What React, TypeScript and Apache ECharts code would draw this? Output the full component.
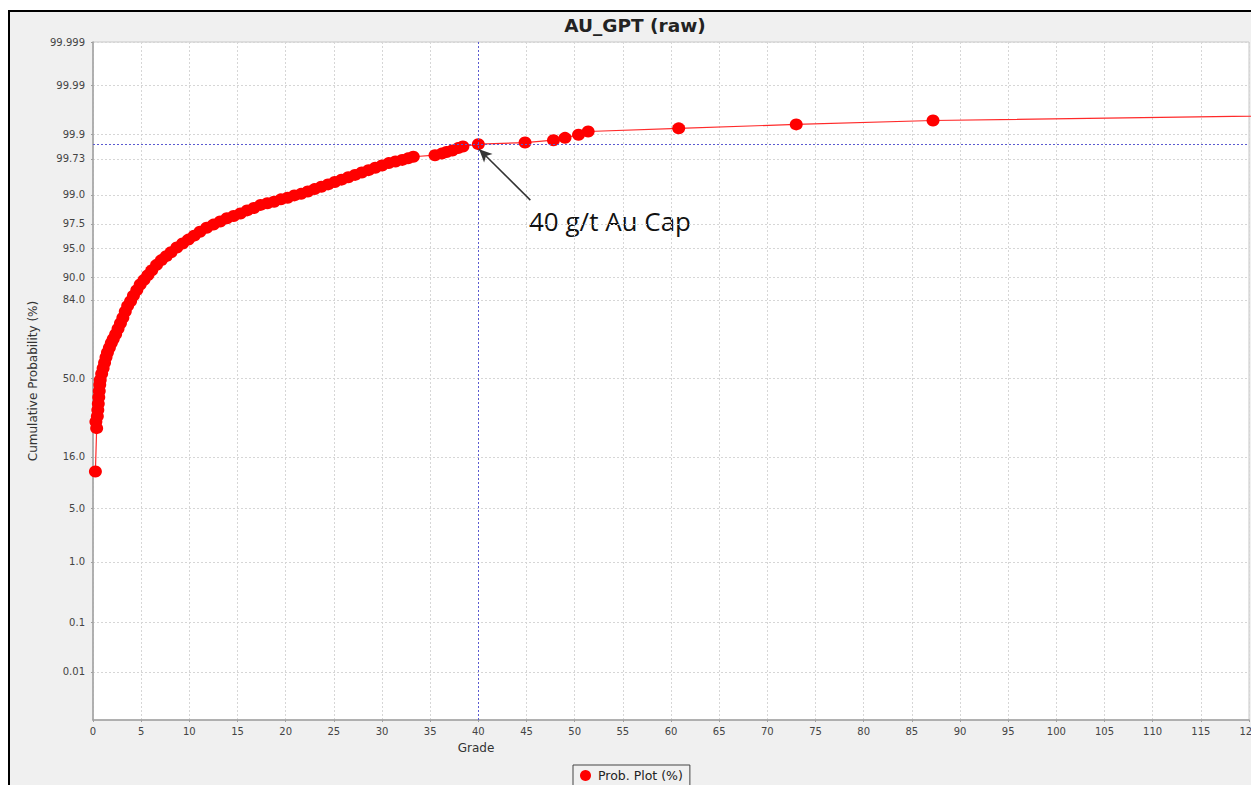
import React, { useEffect, useRef } from "react";
import * as echarts from "echarts";

// Grade (g/t) of each plotted sample
const grade = [
  0.25, 0.38, 0.3, 0.45, 0.5, 0.55, 0.6, 0.65, 0.7, 0.75,
  0.9, 1.05, 1.2, 1.35, 1.5, 1.7, 1.9, 2.1,
  2.35, 2.6, 2.85, 3.1, 3.35, 3.6, 3.9, 4.2, 4.55, 4.9,
  5.3, 5.7, 6.1, 6.6, 7.1, 7.6, 8.1, 8.7, 9.3, 9.9,
  10.5, 11.1, 11.8, 12.5, 13.2, 13.9, 14.6, 15.3, 16.0, 16.7,
  17.4, 18.1, 18.8, 19.5, 20.2, 20.9, 21.6, 22.3, 23.0, 23.7,
  24.4, 25.1, 25.8, 26.5, 27.2, 27.9, 28.6, 29.3, 30.0, 30.7,
  31.4, 32.1, 32.7, 33.25, 35.5, 36.2, 36.7, 37.3, 37.9, 38.4,
  40.0, 44.85, 47.8, 49.0, 50.4, 51.4, 60.8, 73.0, 87.2, 140,
];

// Normal score (probit of the cumulative probability) of each sample
const normalScore = [
  -1.18, -0.63, -0.55, -0.48, -0.4, -0.32, -0.24, -0.16, -0.08, -0.02,
  0.06, 0.13, 0.2, 0.27, 0.33, 0.39, 0.45, 0.5,
  0.56, 0.63, 0.7, 0.77, 0.85, 0.92, 0.98, 1.05, 1.12, 1.19,
  1.25, 1.31, 1.37, 1.44, 1.5, 1.55, 1.6, 1.66, 1.71, 1.76,
  1.81, 1.86, 1.91, 1.95, 1.99, 2.03, 2.06, 2.09, 2.13, 2.16,
  2.2, 2.22, 2.24, 2.27, 2.29, 2.32, 2.34, 2.37, 2.4, 2.43,
  2.46, 2.49, 2.52, 2.55, 2.58, 2.61, 2.64, 2.67, 2.7, 2.73,
  2.75, 2.77, 2.79, 2.81, 2.83, 2.85, 2.87, 2.89, 2.92, 2.94,
  2.97, 2.99, 3.02, 3.05, 3.09, 3.13, 3.17, 3.22, 3.27, 3.36,
];

// Probability-axis tick labels (%)
const yTickLabels = [
  "99.999", "99.99", "99.9", "99.73", "99.0", "97.5", "95.0", "90.0",
  "84.0", "50.0", "16.0", "5.0", "1.0", "0.1", "0.01",
];
const yBottomScore = -4.33;

const capGrade = 40;
const capScore = 2.97;
const arrowFrom = [45.4, 2.26];
const arrowTo = [40.08, 2.906];
const capLabel = "40 g/t Au Cap";

// Acklam's inverse normal CDF
function normInv(p: number): number {
  const a = [-3.969683028665376e1, 2.209460984245205e2, -2.759285104469687e2, 1.38357751867269e2, -3.066479806614716e1, 2.506628277459239];
  const b = [-5.447609879822406e1, 1.615858368580409e2, -1.556989798598866e2, 6.680131188771972e1, -1.328068155288572e1];
  const c = [-7.784894002430293e-3, -3.223964580411365e-1, -2.400758277161838, -2.549732539343734, 4.374664141464968, 2.938163982698783];
  const d = [7.784695709041462e-3, 3.224671290700398e-1, 2.445134137142996, 3.754408661907416];
  const pl = 0.02425;
  let q: number, r: number;
  if (p < pl) {
    q = Math.sqrt(-2 * Math.log(p));
    return (((((c[0] * q + c[1]) * q + c[2]) * q + c[3]) * q + c[4]) * q + c[5]) /
      ((((d[0] * q + d[1]) * q + d[2]) * q + d[3]) * q + 1);
  }
  if (p <= 1 - pl) {
    q = p - 0.5;
    r = q * q;
    return (((((a[0] * r + a[1]) * r + a[2]) * r + a[3]) * r + a[4]) * r + a[5]) * q /
      (((((b[0] * r + b[1]) * r + b[2]) * r + b[3]) * r + b[4]) * r + 1);
  }
  q = Math.sqrt(-2 * Math.log(1 - p));
  return -(((((c[0] * q + c[1]) * q + c[2]) * q + c[3]) * q + c[4]) * q + c[5]) /
    ((((d[0] * q + d[1]) * q + d[2]) * q + d[3]) * q + 1);
}

export default function App() {
  const ref = useRef<HTMLDivElement>(null);

  useEffect(() => {
    document.body.style.margin = "0";
    if (!ref.current) return;
    const chart = echarts.init(ref.current, null, { renderer: "svg" });
    const yTicks = yTickLabels.map((s) => normInv(parseFloat(s) / 100));
    const data = grade.map((g, i) => [g, normalScore[i]]);
    const font = "DejaVu Sans";

    chart.setOption({
      animation: false,
      backgroundColor: "transparent",
      title: {
        text: "AU_GPT (raw)",
        left: 635,
        top: 16,
        textAlign: "center",
        padding: 0,
        textStyle: { fontFamily: font, fontSize: 18.5, fontWeight: "bold", color: "#222" },
      },
      legend: {
        data: [{ name: "Prob. Plot (%)", icon: "circle" }],
        left: 573,
        top: 765,
        padding: [4, 7],
        itemWidth: 15,
        itemHeight: 11,
        itemGap: 5,
        borderColor: "#444",
        borderWidth: 1,
        backgroundColor: "#f0f0f0",
        textStyle: { fontFamily: font, fontSize: 12.5, color: "#222" },
      },
      grid: {
        left: 93,
        right: 2,
        top: 42,
        bottom: 65,
        show: true,
        backgroundColor: "#ffffff",
        borderColor: "#c8c8c8",
        borderWidth: 1,
        containLabel: false,
        outerBoundsMode: "none",
      },
      xAxis: {
        type: "value",
        min: 0,
        max: 120,
        interval: 5,
        name: "Grade",
        nameLocation: "middle",
        nameGap: 22,
        nameTextStyle: { fontFamily: font, fontSize: 12, color: "#333", padding: [0, 390, 0, 0] },
        axisLine: { show: true, onZero: false, lineStyle: { color: "#a0a0a0", width: 1.5 } },
        axisTick: { show: true, length: 2, lineStyle: { color: "#a0a0a0" } },
        axisLabel: { fontFamily: font, fontSize: 10, color: "#444", margin: 6, showMaxLabel: true, showMinLabel: true, hideOverlap: false },
        splitLine: { show: true, lineStyle: { color: "#d6d6d6", type: [2, 2], width: 1 } },
      },
      yAxis: {
        type: "value",
        min: yBottomScore,
        max: yTicks[0],
        name: "Cumulative Probability (%)",
        nameLocation: "middle",
        nameGap: 52,
        nameTextStyle: { fontFamily: font, fontSize: 12, color: "#333" },
        axisLine: { show: true, onZero: false, lineStyle: { color: "#a0a0a0", width: 1.5 } },
        axisTick: { show: true, length: 2, customValues: yTicks, lineStyle: { color: "#a0a0a0" } },
        axisLabel: {
          customValues: yTicks,
          fontFamily: font,
          fontSize: 10,
          color: "#444",
          margin: 8,
          formatter: (v: number) => {
            const i = yTicks.findIndex((t) => Math.abs(t - v) < 1e-6);
            return i >= 0 ? yTickLabels[i] : "";
          },
        },
        splitLine: { show: true, lineStyle: { color: "#d6d6d6", type: [2, 2], width: 1 } },
      },
      graphic: [
        {
          type: "text",
          x: 529,
          y: 221,
          silent: true,
          style: {
            text: capLabel,
            fontFamily: "Open Sans",
            fontSize: 26,
            fill: "#111",
            verticalAlign: "middle",
            align: "left",
          },
        },
      ],
      series: [
        {
          name: "Prob. Plot (%)",
          type: "line",
          data,
          symbol: "circle",
          symbolSize: [13, 12],
          showSymbol: true,
          clip: true,
          itemStyle: { color: "#ff0000" },
          lineStyle: { color: "#ff2a2a", width: 1.2 },
          emphasis: { disabled: true },
          markLine: {
            silent: true,
            symbol: ["none", "none"],
            label: { show: false },
            emphasis: { disabled: true },
            data: [
              { xAxis: capGrade, lineStyle: { color: "#5a5ad0", type: [2, 2], width: 1 } },
              { yAxis: capScore, lineStyle: { color: "#5a5ad0", type: [2, 2], width: 1 } },
              [
                { coord: arrowFrom, symbol: "none", lineStyle: { color: "#333", type: "solid", width: 1.5 } },
                { coord: arrowTo, symbol: "arrow", symbolSize: [9, 13], lineStyle: { color: "#333", type: "solid", width: 1.5 } },
              ],
            ],
          },
        },
      ],
    });

    return () => chart.dispose();
  }, []);

  return (
    <div style={{ position: "relative", width: 1251, height: 785, background: "#ffffff", overflow: "hidden" }}>
      <div
        style={{
          position: "absolute",
          left: 8,
          top: 10,
          width: 1300,
          height: 800,
          background: "#f0f0f0",
          borderTop: "2px solid #000",
          borderLeft: "2px solid #000",
        }}
      />
      <div ref={ref} style={{ position: "absolute", left: 0, top: 0, width: 1251, height: 785 }} />
    </div>
  );
}
